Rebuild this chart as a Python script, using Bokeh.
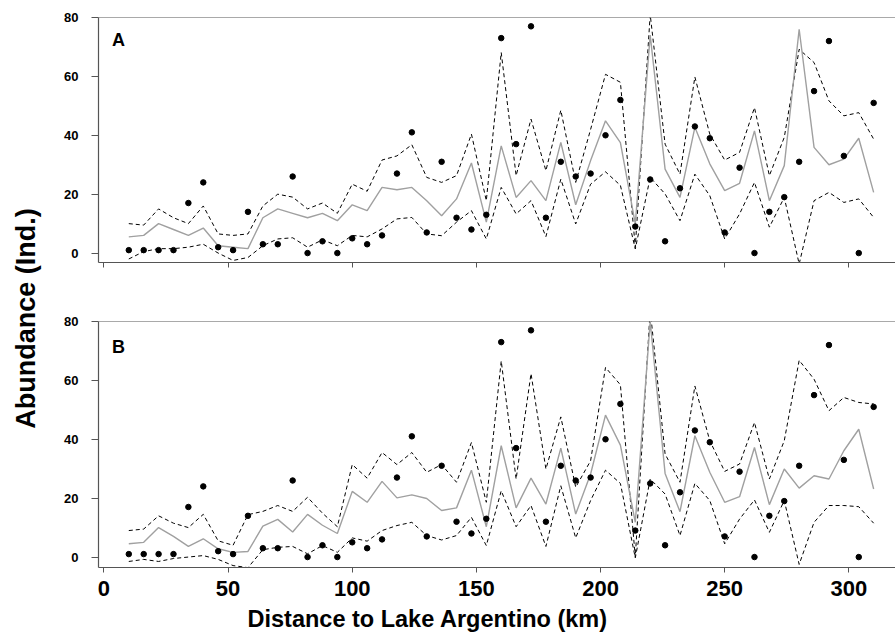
from bokeh.plotting import figure
from bokeh.layouts import row, column
from bokeh.models import Range1d, FixedTicker, Span, Title
from bokeh.embed import file_html
from bokeh.resources import INLINE
from bokeh.core.properties import value
import math

# ---------------- data ----------------
distance_km = [10, 16, 22, 28, 34, 40, 46, 52, 58, 64, 70, 76, 82, 88, 94, 100,
               106, 112, 118, 124, 130, 136, 142, 148, 154, 160, 166, 172, 178,
               184, 190, 196, 202, 208, 214, 220, 226, 232, 238, 244, 250, 256,
               262, 268, 274, 280, 286, 292, 298, 304, 310]

observed = [1, 1, 1, 1, 17, 24, 2, 1, 14, 3, 3, 26, 0, 4, 0, 5, 3, 6, 27, 41,
            7, 31, 12, 8, 13, 73, 37, 77, 12, 31, 26, 27, 40, 52, 9, 25, 4, 22,
            43, 39, 7, 29, 0, 14, 19, 31, 55, 72, 33, 0, 51]

mean_a = [5.5, 6, 10, 8, 6, 8.5, 2.5, 2, 1.5, 12, 15, 13.5, 12, 13.5, 11, 16.4,
          14.4, 22.3, 21.5, 22.3, 17.8, 12.7, 18.4, 30.6, 10.5, 36.4, 18.9, 24.6,
          17.8, 37.6, 16.4, 31.4, 44.9, 37.5, 9.9, 74, 28.5, 18.9, 42.7, 30.3,
          21.2, 23.7, 41.5, 17.8, 29.7, 76, 35.9, 30, 31.9, 39, 20.6]
upper_a = [10, 9.5, 15, 12, 10, 16, 6.5, 6, 6.5, 16, 20, 19, 15, 17, 13.5, 23.4,
           21, 31.6, 33, 36.8, 25.7, 24, 26.3, 40.4, 17.8, 68.1, 26.3, 45.5, 28,
           48.5, 24, 42, 60.7, 58, 2, 81, 37, 26.8, 59.8, 40.4, 31.6, 34.2, 49.4,
           26.3, 39.3, 69.2, 64.7, 51.7, 46.6, 47.7, 38.7]
lower_a = [-2, 0.5, 1.5, 1.5, 2, 3, 0, -2.5, -1.5, 2.5, 4.8, 5.2, 2, 4.5, 2.5, 6,
           5.5, 8.2, 11.6, 12.1, 6.5, 5.9, 10.5, 14.4, 4.8, 22.3, 13.3, 17.8, 5.6,
           25.1, 9.9, 23.4, 27.6, 23, 1.4, 25.7, 20.1, 11, 26.8, 19.5, 4.8, 13.3,
           24, 8.8, 18.9, -3.7, 17.8, 20.6, 17.2, 18.4, 12.1]

mean_b = [4.5, 5, 10, 7, 3.6, 6.2, 2.8, 1.6, 1.9, 10.5, 12.8, 8.5, 14.5, 10.8, 8,
          22.3, 18.6, 25.7, 20.1, 21.1, 19.9, 15.8, 16.7, 29.5, 10.3, 37.8, 16.7,
          26.8, 18, 37, 14.6, 28.2, 48.2, 38, 11.8, 80, 28.4, 15.4, 41.2, 28.8,
          18.6, 20.5, 37.2, 17.8, 29.9, 23.4, 27.6, 26.5, 36.1, 43.4, 23.1]
upper_b = [9, 9.5, 14, 11.5, 10, 14.5, 5.5, 4, 14.4, 15.5, 17.5, 15.5, 20.3, 14.9,
           10.3, 31.4, 26.8, 35.5, 31.4, 35.5, 28.8, 31.4, 25.4, 38.9, 18.6, 66.6,
           26.5, 62.3, 29.9, 47.6, 23.7, 32.7, 64.4, 58.5, 0, 84, 35, 25.4, 58.1,
           39.5, 29.1, 31.6, 45.7, 26.5, 39.5, 66.8, 60.4, 49.7, 54.2, 52.5, 52]
lower_b = [-1.5, -0.8, -1.5, -0.5, 0, 0.5, -0.8, -2.9, -3.6, 2.5, 3.3, 3.6, 1.1,
           3.9, 1.6, 6.5, 5.4, 9, 10.7, 11.8, 7.3, 5.8, 7.3, 13.5, 3.9, 22.5, 10.3,
           17.5, 3.6, 24.2, 6.5, 19.2, 29.5, 25, -0.3, 26.5, 21.4, 7.3, 25, 19.2,
           4.5, 12.9, 19.4, 8.4, 19.2, -2.5, 11.8, 17.5, 17.5, 17.1, 11.5]

x_ticks = [0, 50, 100, 150, 200, 250, 300]
y_ticks = [0, 20, 40, 60, 80]
panel_letters = ["A", "B"]
x_title = "Distance to Lake Argentino (km)"
y_title = "Abundance (Ind.)"

FONT = "Liberation Sans"
AXIS_COL = "#555555"
PANEL_W = 847


def make_panel(letter, mean, upper, lower, bottom, letter_y):
    if bottom:
        h, bt, bb, y0 = 348, 30, 72, -3.55
    else:
        h, bt, bb, y0 = 291, 17, 29, -3.2
    p = figure(width=PANEL_W, height=h, output_backend="svg", toolbar_location=None,
               x_range=Range1d(-2.2, 318.8), y_range=Range1d(y0, 80),
               min_border_left=50, min_border_right=0,
               min_border_top=bt, min_border_bottom=bb)
    p.outline_line_color = None
    p.grid.visible = False
    p.background_fill_color = "white"

    p.line(distance_km, upper, line_color="black", line_dash="4 3", line_width=1)
    p.line(distance_km, lower, line_color="black", line_dash="4 3", line_width=1)
    p.line(distance_km, mean, line_color="#a0a0a0", line_width=1.4)
    p.scatter(distance_km, observed, size=5.5, color="black")

    p.add_layout(Span(location=80, dimension="width", line_color=AXIS_COL,
                      line_width=1.2))

    p.text(x=[3.2], y=[letter_y], text=[letter], text_font=value(FONT),
           text_font_style="bold", text_font_size="18px",
           text_baseline="middle", text_align="left", text_color="black")

    xa = p.xaxis[0]
    xa.ticker = FixedTicker(ticks=x_ticks)
    xa.minor_tick_line_color = None
    xa.major_tick_in = 0
    xa.major_tick_out = 5
    xa.axis_line_color = AXIS_COL
    xa.major_tick_line_color = AXIS_COL
    xa.axis_line_width = 1.2
    xa.major_label_text_font = FONT
    xa.major_label_text_font_style = "bold"
    xa.major_label_text_color = "black"
    xa.major_label_text_font_size = "22px"
    xa.major_label_standoff = 8
    if not bottom:
        xa.major_label_overrides = {t: "" for t in x_ticks}
        xa.major_label_standoff = 0
    else:
        # x title below the axis, left-aligned at the same spot as the original
        p.add_layout(Title(text=x_title, align="left", offset=149,
                           standoff=10, text_font=FONT, text_font_style="bold",
                           text_font_size="23.5px", text_color="black"),
                     "below")

    ya = p.yaxis[0]
    ya.ticker = FixedTicker(ticks=y_ticks)
    ya.minor_tick_line_color = None
    ya.major_tick_in = 0
    ya.major_tick_out = 7
    ya.axis_line_color = AXIS_COL
    ya.major_tick_line_color = AXIS_COL
    ya.axis_line_width = 1.2
    ya.major_label_text_font = FONT
    ya.major_label_text_font_style = "bold"
    ya.major_label_text_font_size = "13px"
    ya.major_label_text_color = "black"
    ya.major_label_standoff = 13
    return p


pa = make_panel(panel_letters[0], mean_a, upper_a, lower_a, False, 72.5)
pb = make_panel(panel_letters[1], mean_b, upper_b, lower_b, True, 71.2)

# y-axis title strip
pt = figure(width=48, height=639, output_backend="svg", toolbar_location=None,
            x_range=Range1d(0, 48), y_range=Range1d(0, 639),
            min_border=0, min_border_left=0, min_border_right=0,
            min_border_top=0, min_border_bottom=0)
pt.axis.visible = False
pt.grid.visible = False
pt.outline_line_color = None
pt.text(x=[25], y=[321], text=[y_title], angle=math.pi / 2,
        text_font=value(FONT), text_font_style="bold", text_font_size="27px",
        text_align="center", text_baseline="middle", text_color="black")

layout = row(pt, column(pa, pb))

open("out.html", "w").write(file_html(layout, INLINE))
